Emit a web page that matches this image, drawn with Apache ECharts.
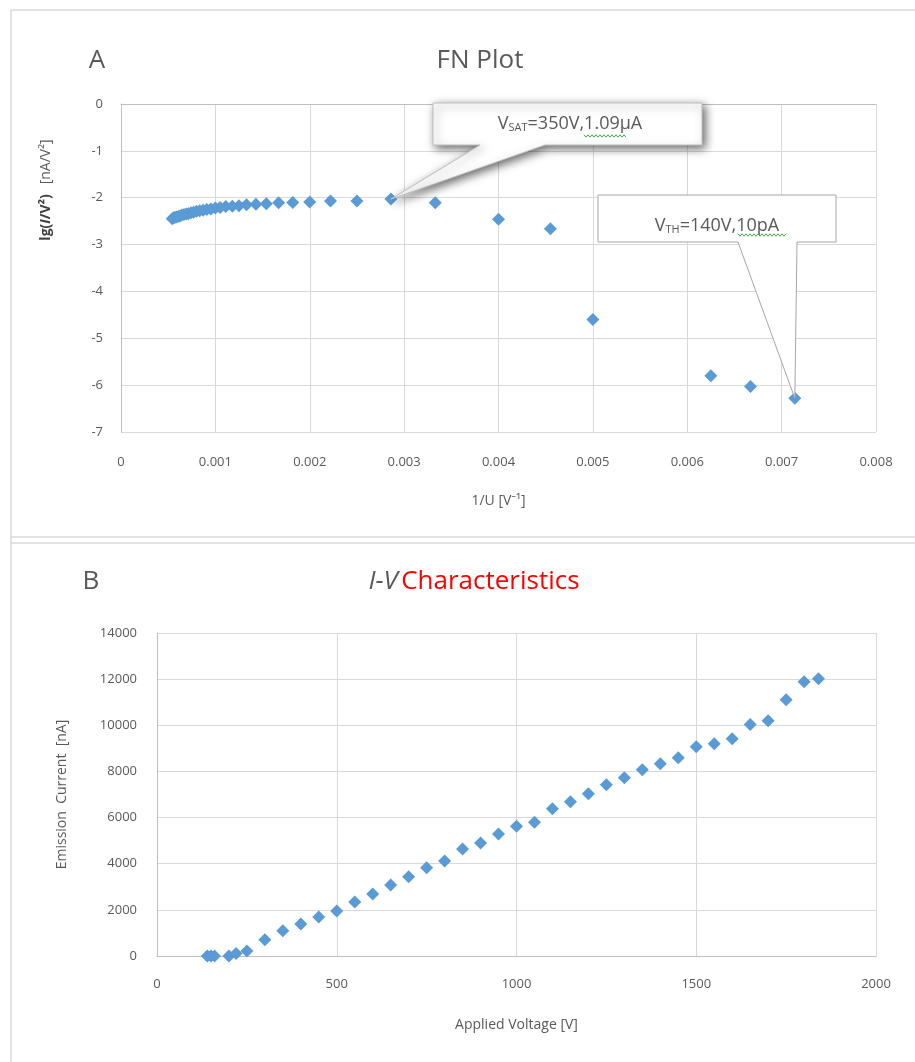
<!DOCTYPE html>
<html>
<head>
<meta charset="utf-8">
<script src="https://cdn.jsdelivr.net/npm/echarts@6/dist/echarts.min.js"></script>
<style>
  html, body { margin: 0; padding: 0; background: #fff; }
  #main { width: 915px; height: 1062px; }
</style>
</head>
<body>
<div id="main"></div>
<script>
  // A: FN plot, x = 1/U, y = lg(I/V^2)
  const fnInvU = [0.00714, 0.00667, 0.00625, 0.005, 0.00455, 0.004, 0.00333, 0.00286, 0.0025, 0.00222,
    0.002, 0.00182, 0.00167, 0.00154, 0.00143, 0.00133, 0.00125, 0.00118, 0.00111, 0.00105,
    0.001, 0.000952, 0.000909, 0.00087, 0.000833, 0.0008, 0.000769, 0.000741, 0.000714, 0.00069,
    0.000667, 0.000645, 0.000625, 0.000606, 0.000588, 0.000571, 0.000556, 0.000543];
  const fnLg = [-6.28, -6.03, -5.8, -4.6, -2.66, -2.46, -2.11, -2.03, -2.07, -2.07,
    -2.09, -2.1, -2.11, -2.13, -2.14, -2.15, -2.17, -2.18, -2.19, -2.21,
    -2.22, -2.24, -2.25, -2.27, -2.28, -2.29, -2.31, -2.32, -2.34, -2.35,
    -2.36, -2.37, -2.39, -2.4, -2.41, -2.42, -2.43, -2.45];

  // B: I-V characteristics
  const volts = [140, 150, 160, 200, 220, 250, 300, 350, 400, 450,
    500, 550, 600, 650, 700, 750, 800, 850, 900, 950,
    1000, 1050, 1100, 1150, 1200, 1250, 1300, 1350, 1400, 1450,
    1500, 1550, 1600, 1650, 1700, 1750, 1800, 1840];
  const currentNA = [0.01, 0.02, 0.04, 1, 106, 220, 700, 1090, 1390, 1690,
    1950, 2340, 2690, 3080, 3430, 3820, 4120, 4640, 4900, 5290,
    5620, 5800, 6380, 6690, 7030, 7420, 7730, 8070, 8330, 8590,
    9070, 9200, 9420, 10030, 10200, 11110, 11890, 12020];

  const satIdx = 7;   // 350 V
  const thIdx = 0;    // 140 V

  const FONT = '"Open Sans", "Noto Sans", sans-serif';
  const GRAY = '#595959';
  const GRID = '#d9d9d9';
  const BLUE = '#5b9bd5';

  const chart = echarts.init(document.getElementById('main'));

  function axisCommon() {
    return {
      axisLine: { show: true, lineStyle: { color: '#bfbfbf', width: 1 } },
      axisTick: { show: false },
      splitLine: { show: true, lineStyle: { color: GRID, width: 1 } },
      axisLabel: { color: GRAY, fontSize: 13, fontFamily: FONT }
    };
  }

  const plain = v => String(v);

  const option = {
    backgroundColor: '#fff',
    animation: false,
    textStyle: { fontFamily: FONT },
    grid: [
      { left: 121, top: 104, width: 755, height: 328 },
      { left: 157, top: 633, width: 719, height: 323 }
    ],
    xAxis: [
      Object.assign(axisCommon(), {
        gridIndex: 0, type: 'value', min: 0, max: 0.008, interval: 0.001,
        name: '1/U [V⁻¹]', nameLocation: 'middle', nameGap: 62,
        nameTextStyle: { color: GRAY, fontSize: 14, fontFamily: FONT },
        axisLabel: { color: GRAY, fontSize: 13, fontFamily: FONT, margin: 24,
          formatter: v => v === 0 ? '0' : v.toFixed(3) }
      }),
      Object.assign(axisCommon(), {
        gridIndex: 1, type: 'value', min: 0, max: 2000, interval: 500,
        name: 'Applied Voltage [V]', nameLocation: 'middle', nameGap: 62,
        nameTextStyle: { color: GRAY, fontSize: 14, fontFamily: FONT },
        axisLabel: { color: GRAY, fontSize: 13, fontFamily: FONT, margin: 22, formatter: plain }
      })
    ],
    yAxis: [
      Object.assign(axisCommon(), {
        gridIndex: 0, type: 'value', min: -7, max: 0, interval: 1,
        axisLabel: { color: GRAY, fontSize: 13, fontFamily: FONT, margin: 18 }
      }),
      Object.assign(axisCommon(), {
        gridIndex: 1, type: 'value', min: 0, max: 14000, interval: 2000,
        name: 'Emission  Current  [nA]', nameLocation: 'middle', nameGap: 88,
        nameTextStyle: { color: GRAY, fontSize: 14, fontFamily: FONT },
        axisLabel: { color: GRAY, fontSize: 13, fontFamily: FONT, margin: 20, formatter: plain }
      })
    ],
    series: [
      {
        type: 'scatter', xAxisIndex: 0, yAxisIndex: 0,
        symbol: 'diamond', symbolSize: 13,
        itemStyle: { color: BLUE, opacity: 1 },
        data: fnInvU.map((x, i) => [x, fnLg[i]])
      },
      {
        type: 'scatter', xAxisIndex: 1, yAxisIndex: 1,
        symbol: 'diamond', symbolSize: 13,
        itemStyle: { color: BLUE, opacity: 1 },
        data: volts.map((v, i) => [v, currentNA[i]])
      }
    ]
  };

  chart.setOption(option);

  function zigzag(x0, x1, y) {
    const pts = [];
    let up = true;
    for (let x = x0; x <= x1; x += 2) {
      pts.push([x, up ? y - 1.2 : y + 1.2]);
      up = !up;
    }
    return pts;
  }

  const tipSat = chart.convertToPixel({ seriesIndex: 0 }, [fnInvU[satIdx], fnLg[satIdx]]);
  const tipTh = chart.convertToPixel({ seriesIndex: 0 }, [fnInvU[thIdx], fnLg[thIdx]]);

  const calloutRich = {
    n: { fontSize: 18, fill: GRAY, fontFamily: FONT, verticalAlign: 'bottom' },
    s: { fontSize: 11, fill: GRAY, fontFamily: FONT, verticalAlign: 'bottom' }
  };

  const graphics = [
    // panel frames
    { type: 'line', shape: { x1: 11, y1: 10, x2: 915, y2: 10 }, style: { stroke: GRID, lineWidth: 1.5 } },
    { type: 'line', shape: { x1: 11, y1: 10, x2: 11, y2: 1062 }, style: { stroke: GRID, lineWidth: 1.5 } },
    { type: 'line', shape: { x1: 11, y1: 537, x2: 915, y2: 537 }, style: { stroke: GRID, lineWidth: 1.5 } },
    { type: 'line', shape: { x1: 11, y1: 543, x2: 915, y2: 543 }, style: { stroke: GRID, lineWidth: 1.5 } },

    // titles
    { type: 'text', x: 97, y: 61, style: { text: 'A', fontSize: 26, fill: GRAY, fontFamily: FONT, align: 'center', verticalAlign: 'middle' } },
    { type: 'text', x: 480, y: 61, style: { text: 'FN Plot', fontSize: 26, fill: GRAY, fontFamily: FONT, align: 'center', verticalAlign: 'middle' } },
    { type: 'text', x: 91, y: 582, style: { text: 'B', fontSize: 26, fill: GRAY, fontFamily: FONT, align: 'center', verticalAlign: 'middle' } },
    { type: 'text', x: 474, y: 582, style: {
        text: '{i|I-V} {r|Characteristics}', align: 'center', verticalAlign: 'middle',
        rich: {
          i: { fontSize: 26, fill: GRAY, fontStyle: 'italic', fontFamily: FONT },
          r: { fontSize: 26, fill: '#ff0000', fontFamily: FONT }
        } } },

    // top y-axis name
    { type: 'text', x: 46, y: 190, rotation: Math.PI / 2, style: {
        text: '{b|lg(}{bi|I}{b|/V²)}   {n|[nA/V²]}', align: 'center', verticalAlign: 'middle',
        rich: {
          b: { fontSize: 14, fill: '#404040', fontWeight: 'bold', fontFamily: FONT },
          bi: { fontSize: 14, fill: '#404040', fontWeight: 'bold', fontStyle: 'italic', fontFamily: FONT },
          n: { fontSize: 14, fill: GRAY, fontFamily: FONT }
        } } },

    // callout: saturation
    { type: 'polygon', z: 20, shape: { points: [[433, 103], [702, 103], [702, 145], [545, 145], tipSat, [480, 145], [433, 145]] },
      style: { fill: '#fff', stroke: '#bfbfbf', lineWidth: 1, shadowBlur: 10, shadowColor: 'rgba(0,0,0,0.6)', shadowOffsetX: 3, shadowOffsetY: 3 } },
    { type: 'text', z: 21, x: 570, y: 124, style: {
        text: '{n|V}{s|SAT}{n|=350V,1.09µA}', align: 'center', verticalAlign: 'middle', rich: calloutRich } },
    { type: 'polyline', z: 21, shape: { points: zigzag(584, 627, 136) }, style: { stroke: '#3cb043', lineWidth: 1 } },

    // callout: threshold
    { type: 'polygon', z: 20, shape: { points: [[598, 195], [836, 195], [836, 242], [797, 242], tipTh, [738, 242], [598, 242]] },
      style: { fill: '#fff', stroke: '#a6a6a6', lineWidth: 1 } },
    { type: 'text', z: 21, x: 717, y: 226, style: {
        text: '{n|V}{s|TH}{n|=140V,10pA}', align: 'center', verticalAlign: 'middle', rich: calloutRich } },
    { type: 'polyline', z: 21, shape: { points: zigzag(738, 787, 235) }, style: { stroke: '#3cb043', lineWidth: 1 } }
  ];

  chart.setOption({ graphic: graphics }, { replaceMerge: ['graphic'] });
</script>
</body>
</html>
